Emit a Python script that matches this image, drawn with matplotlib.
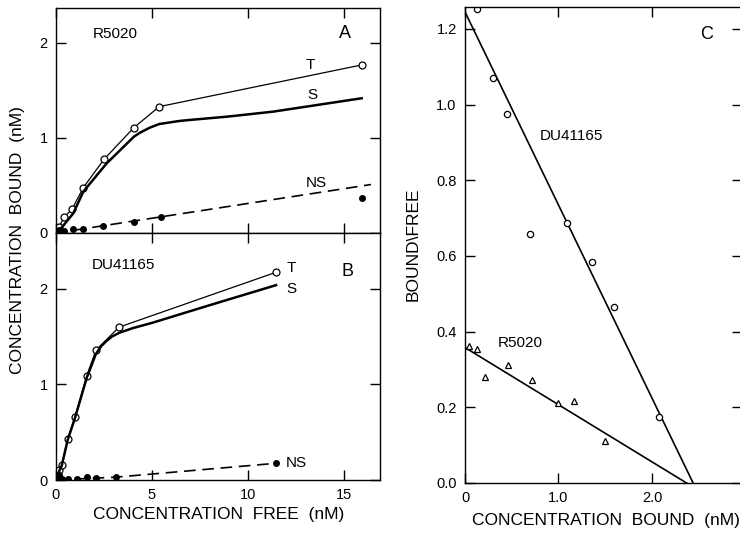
import matplotlib
matplotlib.use("Agg")
import matplotlib.pyplot as plt

plt.rcParams['font.family'] = ['Liberation Sans', 'DejaVu Sans']

# ---------------- Panel A (R5020) ----------------
A_T_x = [0.16, 0.42, 0.85, 1.42, 2.5, 4.06, 5.38, 15.95]
A_T_y = [0.066, 0.165, 0.256, 0.477, 0.775, 1.11, 1.33, 1.77]
A_Tcurve_x = [0.0, 0.16, 0.42, 0.85, 1.42, 2.5, 4.06, 5.38, 15.95]
A_Tcurve_y = [0.0, 0.066, 0.165, 0.256, 0.477, 0.775, 1.11, 1.33, 1.77]
A_S_x = [0.0, 0.12, 0.9, 1.42, 2.64, 4.06, 4.375, 4.9, 5.38, 6.46, 6.98, 8.89, 11.3, 15.92]
A_S_y = [0.0, 0.014, 0.207, 0.435, 0.733, 1.014, 1.056, 1.11, 1.147, 1.18, 1.19, 1.224, 1.277, 1.418]
A_NS_x = [0.05, 0.16, 0.42, 0.88, 1.42, 2.43, 4.06, 5.47, 15.95]
A_NS_y = [0.01, 0.03, 0.02, 0.04, 0.04, 0.077, 0.12, 0.165, 0.365]
A_NSline_x = [0.0, 16.4]
A_NSline_y = [0.0, 0.51]

# ---------------- Panel B (DU41165) ----------------
B_T_x = [0.16, 0.30, 0.61, 0.99, 1.6, 2.08, 3.28, 11.46]
B_T_y = [0.10, 0.16, 0.43, 0.66, 1.09, 1.36, 1.60, 2.175]
B_Tcurve_x = [0.0, 0.16, 0.30, 0.61, 0.99, 1.6, 2.08, 3.28, 11.46]
B_Tcurve_y = [0.0, 0.10, 0.16, 0.43, 0.66, 1.09, 1.36, 1.60, 2.175]
B_S_x = [0.0, 0.16, 0.30, 0.61, 0.99, 1.6, 2.08, 2.35, 2.6, 2.9, 3.28, 4.0, 5.0, 8.0, 11.46]
B_S_y = [0.0, 0.09, 0.15, 0.42, 0.65, 1.07, 1.32, 1.40, 1.45, 1.50, 1.54, 1.59, 1.645, 1.83, 2.04]
B_NS_x = [0.05, 0.16, 0.30, 0.64, 1.1, 1.6, 2.08, 3.13, 11.46]
B_NS_y = [0.02, 0.05, 0.01, 0.01, 0.01, 0.03, 0.02, 0.03, 0.175]
B_NSline_x = [0.0, 3.13, 11.46]
B_NSline_y = [0.0, 0.03, 0.175]

# ---------------- Panel C (Scatchard) ----------------
DU_x = [0.125, 0.30, 0.45, 0.70, 1.094, 1.36, 1.594, 2.075]
DU_y = [1.254, 1.071, 0.975, 0.658, 0.688, 0.585, 0.464, 0.175]
DU_line_x = [0.0, 2.44]
DU_line_y = [1.245, 0.0]
R_x = [0.043, 0.125, 0.217, 0.463, 0.713, 0.99, 1.166, 1.497]
R_y = [0.362, 0.353, 0.281, 0.312, 0.272, 0.212, 0.217, 0.111]
R_line_x = [0.0, 2.37]
R_line_y = [0.358, 0.0]

left_xticks = [0, 5, 10, 15]
left_xticklabels = ['0', '5', '10', '15']
left_yticks = [0, 1, 2]
left_yticklabels = ['0', '1', '2']
C_xticks = [0, 1.0, 2.0]
C_xticklabels = ['0', '1.0', '2.0']
C_yticks = [0.0, 0.2, 0.4, 0.6, 0.8, 1.0, 1.2]
C_yticklabels = ['0.0', '0.2', '0.4', '0.6', '0.8', '1.0', '1.2']

W, H = 740, 536
fig = plt.figure(figsize=(W / 100, H / 100), dpi=100)

def px_axes(x0, y0, x1, y1):
    return fig.add_axes([x0 / W, 1 - y1 / H, (x1 - x0) / W, (y1 - y0) / H])

axA = px_axes(56, 8, 380, 233)
axB = px_axes(56, 233, 380, 480)
axC = px_axes(465, 7, 742, 483)

tick_fs = 10.5
lab_fs = 11
dash = (0, (7, 4))

for ax in (axA, axB, axC):
    ax.tick_params(direction='in', top=True, right=True, length=7, width=1,
                   pad=6, labelsize=tick_fs)
    for s in ax.spines.values():
        s.set_linewidth(1.0)

# Panel A
axA.plot(A_Tcurve_x, A_Tcurve_y, color='black', lw=0.9)
axA.plot(A_T_x, A_T_y, 'o', mfc='white', mec='black', ms=5, mew=0.9)
axA.plot(A_S_x, A_S_y, color='black', lw=1.8)
axA.plot(A_NSline_x, A_NSline_y, color='black', lw=1.2, ls=dash)
axA.plot(A_NS_x, A_NS_y, 'o', color='black', ms=4)
axA.set_xlim(0, 16.875)
axA.set_ylim(0, 2.368)
axA.set_xticks(left_xticks)
axA.set_xticklabels([])
axA.set_yticks(left_yticks)
axA.set_yticklabels(left_yticklabels)
axA.text(1.94, 2.09, 'R5020', fontsize=lab_fs, ha='left', va='center')
axA.text(15.05, 2.095, 'A', fontsize=13, ha='center', va='center')
axA.text(13.23, 1.77, 'T', fontsize=lab_fs, ha='center', va='center')
axA.text(13.33, 1.45, 'S', fontsize=lab_fs, ha='center', va='center')
axA.text(13.54, 0.523, 'NS', fontsize=lab_fs, ha='center', va='center')

# Panel B
axB.plot(B_Tcurve_x, B_Tcurve_y, color='black', lw=0.9)
axB.plot(B_T_x, B_T_y, 'o', mfc='white', mec='black', ms=5, mew=0.9)
axB.plot(B_S_x, B_S_y, color='black', lw=1.8)
axB.plot(B_NSline_x, B_NSline_y, color='black', lw=1.2, ls=dash)
axB.plot(B_NS_x, B_NS_y, 'o', color='black', ms=4)
axB.set_xlim(0, 16.875)
axB.set_ylim(0, 2.586)
axB.set_xticks(left_xticks)
axB.set_xticklabels(left_xticklabels)
axB.set_yticks(left_yticks)
axB.set_yticklabels(left_yticklabels)
axB.text(1.86, 2.25, 'DU41165', fontsize=lab_fs, ha='left', va='center')
axB.text(15.2, 2.18, 'B', fontsize=13, ha='center', va='center')
axB.text(12.27, 2.217, 'T', fontsize=lab_fs, ha='center', va='center')
axB.text(12.27, 2.0, 'S', fontsize=lab_fs, ha='center', va='center')
axB.text(11.98, 0.175, 'NS', fontsize=lab_fs, ha='left', va='center')

# Panel C
axC.plot(DU_line_x, DU_line_y, color='black', lw=1.2)
axC.plot(DU_x, DU_y, 'o', mfc='white', mec='black', ms=4.5, mew=0.9)
axC.plot(R_line_x, R_line_y, color='black', lw=1.2)
axC.plot(R_x, R_y, '^', mfc='white', mec='black', ms=4.5, mew=0.9)
axC.set_xlim(0, 2.963)
axC.set_ylim(0, 1.258)
axC.set_xticks(C_xticks)
axC.set_xticklabels(C_xticklabels)
axC.set_yticks(C_yticks)
axC.set_yticklabels(C_yticklabels)
axC.text(2.585, 1.186, 'C', fontsize=13, ha='center', va='center')
axC.text(0.80, 0.917, 'DU41165', fontsize=lab_fs, ha='left', va='center')
axC.text(0.345, 0.371, 'R5020', fontsize=lab_fs, ha='left', va='center')

# Axis titles
fig.text(219 / W, 1 - 514 / H, 'CONCENTRATION  FREE  (nM)', fontsize=12.5,
         ha='center', va='center')
fig.text(606 / W, 1 - 520 / H, 'CONCENTRATION  BOUND  (nM)', fontsize=12.5,
         ha='center', va='center')
fig.text(18 / W, 1 - 240 / H, 'CONCENTRATION  BOUND  (nM)', fontsize=12.5,
         ha='center', va='center', rotation=90)
fig.text(413 / W, 1 - 244 / H, 'BOUND\\FREE', fontsize=12.5,
         ha='center', va='center', rotation=90)

fig.savefig('out.png', dpi=100)
